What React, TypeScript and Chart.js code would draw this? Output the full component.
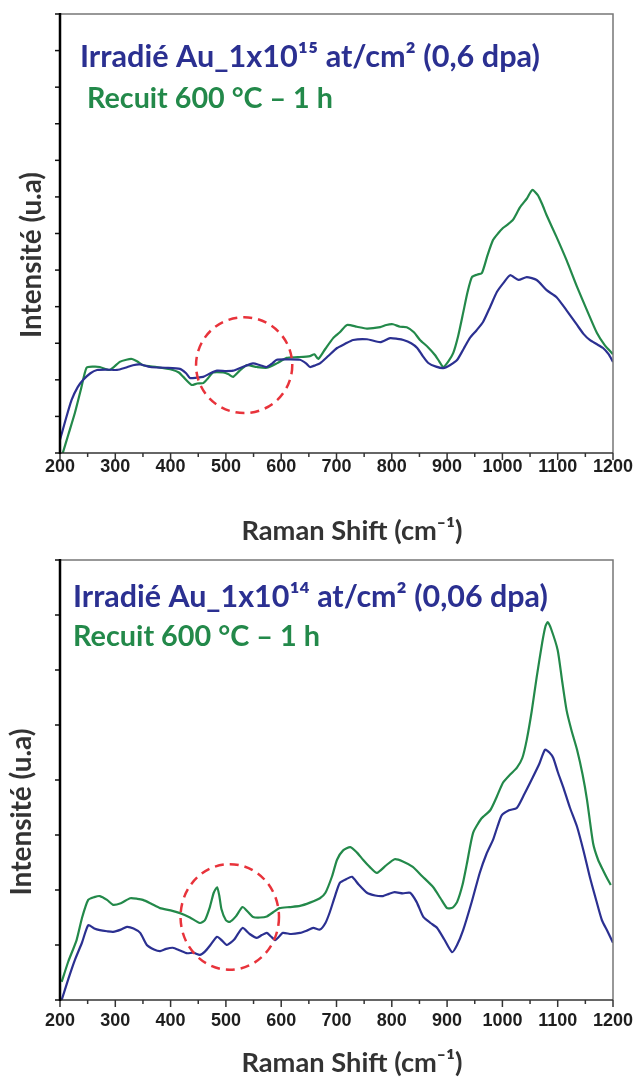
import React, { useEffect, useRef } from "react";
import { Chart, registerables } from "chart.js";
Chart.register(...registerables);

// ---------- data (Raman shift, cm-1 / intensity, a.u.) ----------
const X_TICK_LABELS = ["200", "300", "400", "500", "600", "700", "800", "900", "1000", "1100", "1200"];

// Top panel : 1x10^15 at/cm2 (0,6 dpa)
const topIrrX = [200, 210, 221, 232, 242, 255, 267, 285, 303, 318, 332, 345, 363, 390, 417, 428, 435, 447, 459, 472, 484, 500, 513, 530, 549, 562, 574, 584, 592, 610, 634, 645, 652, 662, 670, 685, 701, 715, 730, 755, 779, 797, 810, 821, 835, 846, 856, 866, 880, 893, 905, 918, 930, 941, 953, 965, 978, 990, 1002, 1014, 1029, 1044, 1062, 1080, 1098, 1116, 1135, 1147, 1158, 1170, 1182, 1192, 1200];
const topIrrY = [0.36, 0.9, 1.45, 1.8, 2.0, 2.18, 2.27, 2.28, 2.27, 2.33, 2.4, 2.42, 2.35, 2.33, 2.3, 2.18, 2.05, 2.06, 2.08, 2.18, 2.25, 2.24, 2.25, 2.35, 2.45, 2.4, 2.35, 2.45, 2.55, 2.56, 2.55, 2.45, 2.35, 2.4, 2.45, 2.65, 2.87, 2.98, 3.09, 3.11, 3.03, 3.14, 3.12, 3.09, 3.0, 2.87, 2.65, 2.46, 2.36, 2.32, 2.4, 2.54, 2.85, 3.14, 3.35, 3.58, 4.0, 4.4, 4.65, 4.86, 4.73, 4.81, 4.73, 4.45, 4.26, 3.9, 3.5, 3.25, 3.09, 2.98, 2.87, 2.7, 2.49];
const topRecX = [205, 215, 227, 238, 248, 260, 272, 290, 308, 320, 330, 340, 350, 375, 404, 415, 423, 438, 448, 459, 468, 477, 495, 505, 513, 525, 538, 556, 574, 592, 610, 630, 652, 660, 667, 680, 694, 706, 719, 737, 755, 779, 790, 802, 815, 827, 840, 851, 865, 878, 886, 893, 902, 911, 920, 929, 937, 945, 955, 963, 973, 983, 992, 1001, 1010, 1019, 1032, 1044, 1054, 1064, 1072, 1080, 1098, 1116, 1135, 1153, 1171, 1185, 1200];
const topRecY = [0.0, 0.5, 1.1, 1.75, 2.33, 2.36, 2.35, 2.27, 2.49, 2.55, 2.57, 2.5, 2.4, 2.35, 2.27, 2.2, 2.08, 1.86, 1.9, 1.91, 2.05, 2.2, 2.2, 2.15, 2.08, 2.25, 2.4, 2.35, 2.33, 2.45, 2.6, 2.62, 2.65, 2.7, 2.57, 2.85, 3.14, 3.3, 3.5, 3.45, 3.4, 3.44, 3.5, 3.52, 3.45, 3.44, 3.3, 3.09, 2.9, 2.68, 2.5, 2.35, 2.5, 2.73, 3.2, 3.83, 4.4, 4.81, 4.88, 4.92, 5.4, 5.82, 6.0, 6.15, 6.25, 6.37, 6.72, 6.95, 7.19, 7.05, 6.8, 6.5, 5.9, 5.27, 4.54, 3.9, 3.28, 2.95, 2.7];

// Bottom panel : 1x10^14 at/cm2 (0,06 dpa)
const botIrrX = [203, 215, 227, 240, 251, 262, 272, 285, 296, 310, 321, 333, 345, 357, 370, 381, 392, 404, 417, 430, 441, 453, 462, 472, 484, 493, 502, 515, 530, 543, 556, 565, 574, 582, 589, 596, 603, 618, 634, 646, 658, 670, 680, 688, 697, 706, 718, 728, 740, 755, 770, 784, 795, 805, 820, 833, 845, 857, 870, 882, 895, 909, 918, 929, 945, 959, 971, 983, 991, 999, 1012, 1026, 1040, 1055, 1067, 1077, 1085, 1092, 1100, 1110, 1122, 1135, 1147, 1158, 1170, 1180, 1190, 1200];
const botIrrY = [0.0, 0.38, 0.73, 1.05, 1.36, 1.3, 1.27, 1.25, 1.24, 1.28, 1.33, 1.3, 1.22, 1.0, 0.92, 0.89, 0.93, 0.95, 0.9, 0.85, 0.86, 0.82, 0.88, 1.0, 1.15, 1.08, 1.0, 1.1, 1.31, 1.2, 1.13, 1.18, 1.22, 1.15, 1.09, 1.15, 1.22, 1.2, 1.22, 1.26, 1.31, 1.28, 1.4, 1.6, 1.88, 2.13, 2.2, 2.24, 2.1, 1.95, 1.9, 1.89, 1.93, 1.96, 1.94, 1.95, 1.78, 1.51, 1.4, 1.31, 1.1, 0.87, 1.0, 1.27, 1.8, 2.31, 2.65, 2.91, 3.15, 3.36, 3.45, 3.49, 3.75, 4.05, 4.3, 4.55, 4.5, 4.4, 4.15, 3.87, 3.5, 3.15, 2.7, 2.24, 1.8, 1.45, 1.25, 1.04];
const botRecX = [203, 215, 230, 240, 251, 262, 272, 285, 296, 310, 327, 340, 350, 365, 381, 400, 417, 435, 453, 462, 471, 478, 484, 488, 492, 500, 507, 518, 530, 540, 549, 562, 574, 586, 597, 615, 634, 652, 670, 680, 692, 701, 712, 725, 737, 748, 760, 773, 790, 805, 820, 838, 855, 875, 888, 900, 910, 918, 928, 936, 947, 962, 978, 990, 1001, 1014, 1026, 1036, 1044, 1053, 1062, 1072, 1078, 1082, 1088, 1100, 1108, 1116, 1125, 1135, 1145, 1153, 1164, 1173, 1182, 1190, 1196];
const botRecY = [0.33, 0.7, 1.09, 1.5, 1.82, 1.87, 1.89, 1.82, 1.73, 1.76, 1.85, 1.84, 1.82, 1.75, 1.67, 1.63, 1.58, 1.5, 1.4, 1.45, 1.69, 1.95, 2.05, 1.9, 1.65, 1.45, 1.42, 1.52, 1.69, 1.6, 1.51, 1.5, 1.52, 1.6, 1.67, 1.69, 1.71, 1.77, 1.85, 1.95, 2.25, 2.55, 2.72, 2.78, 2.68, 2.55, 2.42, 2.31, 2.45, 2.56, 2.52, 2.42, 2.25, 2.05, 1.85, 1.67, 1.68, 1.78, 2.1, 2.49, 3.04, 3.3, 3.45, 3.7, 3.95, 4.1, 4.22, 4.4, 4.73, 5.25, 5.87, 6.5, 6.8, 6.87, 6.75, 6.36, 5.8, 5.27, 4.9, 4.55, 4.1, 3.64, 2.85, 2.55, 2.36, 2.2, 2.09];

const TOP_TITLE = "Irradié Au_1x10¹⁵ at/cm² (0,6 dpa)";
const BOT_TITLE = "Irradié Au_1x10¹⁴ at/cm² (0,06 dpa)";
const ANNEAL_TITLE = "Recuit 600 °C – 1 h";
const X_TITLE = "Raman Shift (cm⁻¹)";
const Y_TITLE = "Intensité (u.a)";

const BLUE = "#2b3091";
const GREEN = "#23894a";
const RED = "#e8333b";
const TITLE_FONT = "Lato, 'Open Sans', sans-serif";

type Deco = {
  title1: string; title2: string;
  t1: [number, number, number]; // left x, center y, width
  t2: [number, number, number];
  xTitle: [number, number, number]; // center x, center y, width
  yTitle: [number, number, number];
  circle: [number, number, number, number]; // data cx, cy, rx, ry
};

function fitFont(ctx: CanvasRenderingContext2D, text: string, width: number) {
  ctx.font = `bold 20px ${TITLE_FONT}`;
  const w = ctx.measureText(text).width;
  const size = (20 * width) / w;
  ctx.font = `bold ${size.toFixed(2)}px ${TITLE_FONT}`;
}

const decoPlugin = {
  id: "deco",
  afterDatasetsDraw(chart: any) {
    const d: Deco = chart.options.plugins.deco;
    const ctx: CanvasRenderingContext2D = chart.ctx;
    const xs = chart.scales.x;
    const ys = chart.scales.y;
    const ca = chart.chartArea;
    ctx.save();
    // dashed circle
    const [cx, cy, rx, ry] = d.circle;
    const px = xs.getPixelForValue(cx);
    const py = ys.getPixelForValue(cy);
    const prx = Math.abs(xs.getPixelForValue(cx + rx) - px);
    const pry = Math.abs(ys.getPixelForValue(cy + ry) - py);
    ctx.setLineDash([9, 6]);
    ctx.strokeStyle = RED;
    ctx.lineWidth = 2.5;
    ctx.beginPath();
    ctx.ellipse(px, py, prx, pry, 0, 0, Math.PI * 2);
    ctx.stroke();
    ctx.setLineDash([]);

    // frame
    ctx.lineWidth = 1.5;
    ctx.strokeStyle = "#777";
    ctx.beginPath();
    ctx.moveTo(ca.left, ca.top);
    ctx.lineTo(ca.right, ca.top);
    ctx.lineTo(ca.right, ca.bottom);
    ctx.stroke();
    ctx.strokeStyle = "#333";
    ctx.beginPath();
    ctx.moveTo(ca.left, ca.bottom);
    ctx.lineTo(ca.right, ca.bottom);
    ctx.stroke();
    // x ticks
    xs.ticks.forEach((t: any) => {
      const x = xs.getPixelForValue(t.value);
      const major = t.value % 100 === 0;
      ctx.beginPath();
      ctx.moveTo(x, ca.bottom);
      ctx.lineTo(x, ca.bottom + (major ? 7 : 4));
      ctx.stroke();
    });
    // y ticks
    ctx.strokeStyle = "#111";
    ys.ticks.forEach((t: any) => {
      const y = ys.getPixelForValue(t.value);
      ctx.beginPath();
      ctx.moveTo(ca.left - 5, y);
      ctx.lineTo(ca.left, y);
      ctx.stroke();
    });
    ctx.lineWidth = 2.5;
    ctx.strokeStyle = "#000";
    ctx.beginPath();
    ctx.moveTo(ca.left, ca.top - 1);
    ctx.lineTo(ca.left, ca.bottom + 1);
    ctx.stroke();

    // titles
    ctx.textBaseline = "middle";
    ctx.textAlign = "left";
    ctx.fillStyle = BLUE;
    fitFont(ctx, d.title1, d.t1[2]);
    ctx.fillText(d.title1, d.t1[0], d.t1[1]);
    ctx.fillStyle = GREEN;
    fitFont(ctx, d.title2, d.t2[2]);
    ctx.fillText(d.title2, d.t2[0], d.t2[1]);

    ctx.fillStyle = "#333";
    ctx.textAlign = "center";
    fitFont(ctx, X_TITLE, d.xTitle[2]);
    ctx.fillText(X_TITLE, d.xTitle[0], d.xTitle[1]);

    ctx.translate(d.yTitle[0], d.yTitle[1]);
    ctx.rotate(-Math.PI / 2);
    fitFont(ctx, Y_TITLE, d.yTitle[2]);
    ctx.fillText(Y_TITLE, 0, 0);
    ctx.restore();
  },
};

type PanelProps = {
  top: number; height: number;
  padTop: number; xAxisH: number; yMax: number; labelPad: number;
  irrX: number[]; irrY: number[]; recX: number[]; recY: number[];
  deco: Deco;
};

function Panel(p: PanelProps) {
  const ref = useRef<HTMLCanvasElement>(null);
  useEffect(() => {
    const canvas = ref.current!;
    const chart = new Chart(canvas, {
      type: "line",
      data: {
        datasets: [
          {
            label: "Irradié",
            data: p.irrX.map((x, i) => ({ x, y: p.irrY[i] })),
            borderColor: BLUE,
            borderWidth: 2.2,
            pointRadius: 0,
            tension: 0.2,
          },
          {
            label: "Recuit 600 °C – 1 h",
            data: p.recX.map((x, i) => ({ x, y: p.recY[i] })),
            borderColor: GREEN,
            borderWidth: 2.2,
            pointRadius: 0,
            tension: 0.2,
          },
        ],
      },
      options: {
        animation: false,
        responsive: false,
        devicePixelRatio: 1,
        layout: { padding: { top: p.padTop, right: 21, left: 0, bottom: 0 } },
        plugins: {
          legend: { display: false },
          tooltip: { enabled: false },
          deco: p.deco,
        } as any,
        scales: {
          x: {
            type: "linear",
            min: 200,
            max: 1200,
            grid: { display: false, drawTicks: false },
            border: { display: false },
            afterFit: (s: any) => {
              s.height = p.xAxisH;
              s.paddingLeft = 0;
              s.paddingRight = 0;
            },
            ticks: {
              stepSize: 50,
              autoSkip: false,
              maxRotation: 0,
              padding: p.labelPad,
              color: "#1e1e1e",
              font: { family: "'Liberation Sans', Arial, sans-serif", size: 18, weight: "bold" },
              callback: (v: any) => {
                const s = String(v);
                return X_TICK_LABELS.includes(s) ? s : "";
              },
            },
          },
          y: {
            min: 0,
            max: p.yMax,
            grid: { display: false, drawTicks: false },
            border: { display: false },
            afterFit: (s: any) => {
              s.width = 60;
              s.paddingTop = 0;
              s.paddingBottom = 0;
            },
            ticks: { stepSize: 1, display: false },
          },
        },
      },
      plugins: [decoPlugin],
    } as any);
    return () => chart.destroy();
  }, []);
  return (
    <canvas
      ref={ref}
      width={634}
      height={p.height}
      style={{ position: "absolute", left: 0, top: p.top, width: 634, height: p.height, display: "block" }}
    />
  );
}

export default function App() {
  return (
    <div style={{ position: "absolute", left: 0, top: 0, width: 634, height: 1081, background: "#fff", overflow: "hidden" }}>
      <Panel
        top={0}
        height={545}
        padTop={14}
        xAxisH={92}
        yMax={12}
        labelPad={3}
        irrX={topIrrX}
        irrY={topIrrY}
        recX={topRecX}
        recY={topRecY}
        deco={{
          title1: TOP_TITLE,
          title2: ANNEAL_TITLE,
          t1: [80, 57, 460],
          t2: [87, 99, 246],
          xTitle: [352, 531, 221],
          yTitle: [32, 255, 166],
          circle: [533, 2.4, 87, 1.31],
        }}
      />
      <Panel
        top={545}
        height={536}
        padTop={15}
        xAxisH={81}
        yMax={8}
        labelPad={10}
        irrX={botIrrX}
        irrY={botIrrY}
        recX={botRecX}
        recY={botRecY}
        deco={{
          title1: BOT_TITLE,
          title2: ANNEAL_TITLE,
          t1: [73, 597 - 545, 475],
          t2: [73, 637 - 545, 247],
          xTitle: [352, 1063 - 545, 221],
          yTitle: [22, 812 - 545, 167],
          circle: [507, 1.51, 89, 0.96],
        }}
      />
    </div>
  );
}
